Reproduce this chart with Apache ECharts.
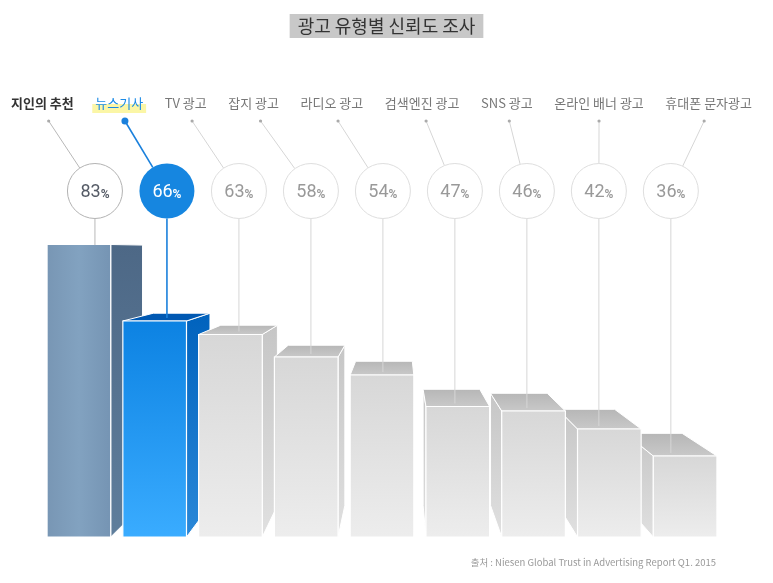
<!DOCTYPE html>
<html><head><meta charset="utf-8">
<script src="https://cdn.jsdelivr.net/npm/echarts@6/dist/echarts.min.js"></script>
<style>html,body{margin:0;padding:0;background:#fff}#c{width:773px;height:583px}</style>
</head><body><div id="c"></div>
<script>
// ---- data ----
const categories = ['지인의 추천','뉴스기사','TV 광고','잡지 광고','라디오 광고','검색엔진 광고','SNS 광고','온라인 배너 광고','휴대폰 문자광고'];
const values = [83, 66, 63, 58, 54, 47, 46, 42, 36];
const titleText = '광고 유형별 신뢰도 조사';
const sourceText = '출처 : Niesen Global Trust in Advertising Report Q1. 2015';

// ---- layout / style ----
const Y_MIN = 18, Y_MAX = 100;
const VP = {x: 400, y: 250};
const DEPTH = 0.11;
const CIRCLE_Y = 191, CIRCLE_R = 27.5;
const LABEL_Y = 103, DOT_Y = 121;
const LABEL_LEFT = 11, LABEL_RIGHT = 752;
const FONT = '"Noto Sans CJK KR", "Noto Sans", sans-serif';
const NUMFONT = 'Roboto, "DejaVu Sans", sans-serif';

const G = echarts.graphic.LinearGradient;
const themes = {
  steel: {
    front: new G(0,0,1,0,[{offset:0,color:'#7896b4'},{offset:0.5,color:'#82a2c0'},{offset:1,color:'#7594b3'}]),
    side: new G(0,0,0,1,[{offset:0,color:'#4d6886'},{offset:1,color:'#5f7e9c'}]),
    top: '#5a7796', circleFill:'#fff', circleStroke:'#b2b2b2', num:'#555b66', line:'#b8b8b8', label:'#333', labelWeight:'bold'
  },
  blue: {
    front: new G(0,0,0,1,[{offset:0,color:'#0c82e2'},{offset:1,color:'#3aacff'}]),
    side: new G(0,0,0,1,[{offset:0,color:'#0062bd'},{offset:1,color:'#2a88d8'}]),
    top: '#0058b2', circleFill:'#1686e0', circleStroke:null, num:'#fff', line:'#1a80dc', label:'#1a8ae6', labelWeight:'normal'
  },
  gray: {
    front: new G(0,0,0,1,[{offset:0,color:'#d7d7d7'},{offset:1,color:'#ededed'}]),
    side: new G(0,0,0,1,[{offset:0,color:'#c6c6c6'},{offset:1,color:'#e0e0e0'}]),
    top: new G(0,0,0,1,[{offset:0,color:'#b6b6b6'},{offset:1,color:'#c9c9c9'}]),
    circleFill:'#fff', circleStroke:'#dedede', num:'#999', line:'#d6d6d6', label:'#777', labelWeight:'normal'
  }
};
function themeOf(i){ return i === 0 ? themes.steel : (i === 1 ? themes.blue : themes.gray); }

// label layout: sequential with equal gaps
const ctx = document.createElement('canvas').getContext('2d');
const labelWidths = categories.map((c, i) => {
  ctx.font = (themeOf(i).labelWeight === 'bold' ? 'bold ' : '') + '13px ' + FONT;
  return ctx.measureText(c).width;
});
const totalW = labelWidths.reduce((a, b) => a + b, 0);
const gap = (LABEL_RIGHT - LABEL_LEFT - totalW) / (categories.length - 1);
const labelCenters = [];
{ let x = LABEL_LEFT; labelWidths.forEach(w => { labelCenters.push(x + w / 2); x += w + gap; }); }

function back(p){ return [p[0] + (VP.x - p[0]) * DEPTH, p[1] + (VP.y - p[1]) * DEPTH]; }

function renderItem(params, api) {
  const i = api.value(0), v = api.value(1);
  const th = themeOf(i);
  const top = api.coord([i, v]);
  const base = api.coord([i, Y_MIN]);
  const band = api.size([1, 0])[0];
  const w = band * 0.84;
  const cx = top[0];
  const x0 = cx - w / 2, x1 = cx + w / 2, yT = top[1], yB = base[1];
  const FTL = [x0, yT], FTR = [x1, yT], FBR = [x1, yB], FBL = [x0, yB];
  const BTL = back(FTL), BTR = back(FTR), BBR = back(FBR), BBL = back(FBL);
  const zb = 1000 - Math.round(Math.abs(cx - VP.x)) * 2;
  const ch = [];
  if (x1 < VP.x) ch.push({type:'polygon', z2: zb, shape:{points:[FTR, BTR, BBR, FBR]}, style:{fill: th.side, stroke:'#fff', lineWidth:1}});
  if (x0 > VP.x) ch.push({type:'polygon', z2: zb, shape:{points:[FTL, BTL, BBL, FBL]}, style:{fill: th.side, stroke:'#fff', lineWidth:1}});
  if (yT > VP.y) ch.push({type:'polygon', z2: zb, shape:{points:[FTL, FTR, BTR, BTL]}, style:{fill: th.top, stroke:'#fff', lineWidth:1}});
  ch.push({type:'rect', z2: zb + 1, shape:{x: x0, y: yT, width: w, height: yB - yT}, style:{fill: th.front, stroke:'#fff', lineWidth:1.2}});

  // circle annotation
  const ccx = cx + (VP.x - cx) * 0.05;
  const backTopY = yT + (VP.y - yT) * DEPTH;
  const isBlue = i === 1;
  ch.push({type:'line', z2: 3000, shape:{x1: ccx, y1: CIRCLE_Y + CIRCLE_R, x2: ccx, y2: Math.max(backTopY, yT - 3)},
    style:{stroke: th.line, lineWidth: isBlue ? 1.6 : 1}});
  // dot + connector
  const lc = labelCenters[i];
  const dx = lc + (ccx - lc) * 0.12;
  const vx = ccx - dx, vy = CIRCLE_Y - DOT_Y, len = Math.sqrt(vx * vx + vy * vy);
  ch.push({type:'line', z2: 3000, shape:{x1: dx, y1: DOT_Y, x2: ccx - vx / len * CIRCLE_R, y2: CIRCLE_Y - vy / len * CIRCLE_R},
    style:{stroke: th.line, lineWidth: isBlue ? 1.6 : 1}});
  ch.push({type:'circle', z2: 3001, shape:{cx: dx, cy: DOT_Y, r: isBlue ? 3.5 : 1.6}, style:{fill: isBlue ? '#1a80dc' : '#aaa'}});
  ch.push({type:'circle', z2: 3002, shape:{cx: ccx, cy: CIRCLE_Y, r: CIRCLE_R},
    style: th.circleStroke ? {fill: th.circleFill, stroke: th.circleStroke, lineWidth: 1} : {fill: th.circleFill}});
  ch.push({type:'text', z2: 3003, style:{
    text: '{n|' + v + '}{p|%}', x: ccx, y: CIRCLE_Y + 1, align:'center', verticalAlign:'middle',
    rich: {
      n: {fontSize: 18, fontFamily: NUMFONT, fill: th.num, color: th.num, verticalAlign:'bottom'},
      p: {fontSize: 12, fontFamily: NUMFONT, fontWeight: 'bold', fill: th.num, color: th.num, verticalAlign:'bottom'}
    }
  }});
  // category label
  if (isBlue) {
    ch.push({type:'rect', z2: 2999, shape:{x: lc - labelWidths[i] / 2 - 3, y: LABEL_Y + 1, width: labelWidths[i] + 6, height: 9}, style:{fill:'#fbf6a6'}});
  }
  ch.push({type:'text', z2: 3003, style:{
    text: categories[i], x: lc, y: LABEL_Y, align:'center', verticalAlign:'middle',
    fontSize: 13, fontFamily: FONT, fontWeight: th.labelWeight, fill: th.label
  }});
  return {type:'group', children: ch};
}

const chart = echarts.init(document.getElementById('c'));
chart.setOption({
  animation: false,
  title: {
    text: titleText, left: 'center', top: 14,
    backgroundColor: '#c8c8c8', padding: [3, 8],
    textStyle: {fontSize: 18, fontWeight: 'normal', color: '#333', fontFamily: FONT}
  },
  grid: {left: 41, right: 50, top: 168, bottom: 46},
  xAxis: {type: 'category', data: categories, show: false},
  yAxis: {type: 'value', min: Y_MIN, max: Y_MAX, show: false},
  graphic: [{
    type: 'text', right: 57, top: 558,
    style: {text: sourceText, fontSize: 9.5, fontFamily: FONT, fill: '#9a9a9a'}
  }],
  series: [{
    type: 'custom',
    renderItem: renderItem,
    clip: false,
    encode: {x: 0, y: 1},
    data: values.map((v, i) => [i, v])
  }]
});
</script>
</body></html>
